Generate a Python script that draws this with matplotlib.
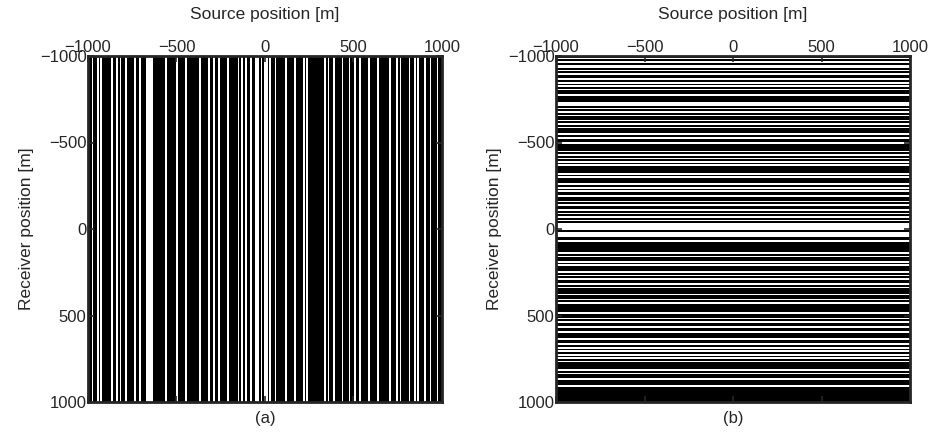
"""Sampling masks: (a) decimated sources, (b) decimated receivers."""
import matplotlib
matplotlib.use("Agg")
import matplotlib.pyplot as plt
import numpy as np

# 1 = trace present (black), 0 = missing (white); 201 positions, 10 m spacing
POSITIONS = np.arange(-1000, 1001, 10)
SOURCE_MASK = (
    "1101101011" "1110110101" "1011110110" "1110000111" "1111011111"
    "0111101111" "1110111101" "1011011110" "1111101010" "1101100101"
    "0010110111" "1101111011" "1101011111" "1111010110" "1111011101"
    "1011011110" "1111011111" "1011101011" "1101101011" "1011011101"
    "1"
)
RECEIVER_MASK = (
    "1010100101" "0110101010" "1101111001" "0101011010" "1011101011"
    "0111101010" "1010111101" "0111010101" "1011010110" "1010101000"
    "0100011011" "1111010110" "1011101010" "1101011101" "1010111110"
    "1101011011" "0111011010" "1010101011" "1101011011" "1011111111"
    "1"
)
TICKS = [-1000, -500, 0, 500, 1000]
PANEL_LABELS = ["(a)", "(b)"]

TEXT = "#262626"
plt.rcParams.update({
    "font.family": ["Liberation Sans", "DejaVu Sans"],
    "font.size": 12,
    "text.color": TEXT,
    "axes.labelcolor": TEXT,
    "xtick.color": TEXT,
    "ytick.color": TEXT,
})

src = np.array([int(c) for c in SOURCE_MASK])
rec = np.array([int(c) for c in RECEIVER_MASK])
n = len(POSITIONS)
masks = [np.tile(src, (n, 1)), np.tile(rec[:, None], (1, n))]
tick_text = [f"{t}".replace("-", "\u2212") for t in TICKS]

fig = plt.figure(figsize=(9.37, 4.41), dpi=100)
lefts = [88 / 937, 556 / 937]
for left, mask, lab in zip(lefts, masks, PANEL_LABELS):
    ax = fig.add_axes([left, 1 - 402 / 441, 354 / 937, 346 / 441])
    ax.imshow(mask, cmap="gray_r", vmin=0, vmax=1, aspect="auto",
              interpolation="nearest", extent=(-1000, 1000, 1000, -1000))
    ax.set_xlim(-1000, 1000)
    ax.set_ylim(1000, -1000)
    ax.set_xticks(TICKS)
    ax.set_yticks(TICKS)
    ax.set_xticklabels(tick_text)
    ax.set_yticklabels(tick_text)
    ax.xaxis.set_label_position("top")
    ax.tick_params(axis="both", direction="in", length=4, width=1.2,
                   top=True, bottom=True, left=True, right=True,
                   labeltop=True, labelbottom=False, labelsize=12, pad=1)
    for sp in ax.spines.values():
        sp.set_linewidth(2.0)
        sp.set_color(TEXT)
    ax.set_xlabel("Source position [m]", fontsize=12.5, labelpad=15)
    ax.set_ylabel("Receiver position [m]", fontsize=12.5, labelpad=4)
    ax.text(0.5, -0.025, lab, transform=ax.transAxes, ha="center", va="top",
            fontsize=12)

fig.savefig("out.png", dpi=100)
